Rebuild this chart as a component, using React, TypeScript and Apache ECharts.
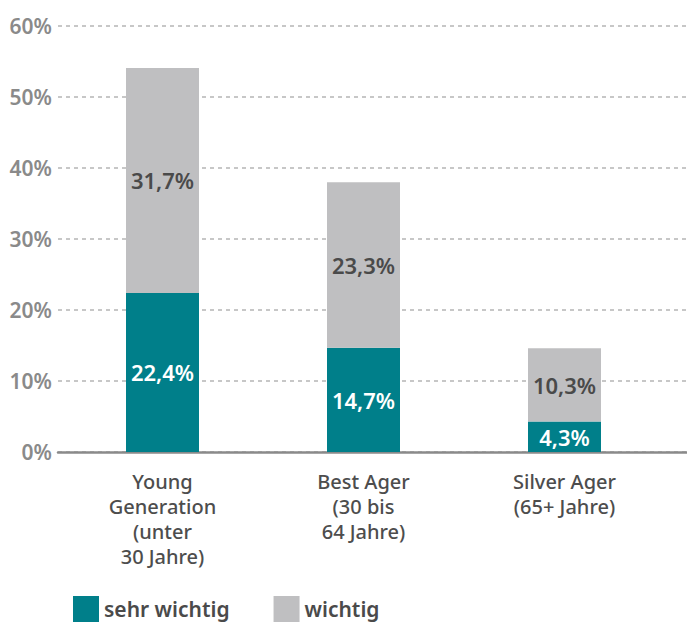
import React, { useEffect, useRef } from "react";
import * as echarts from "echarts";

const categories = ["Young\nGeneration\n(unter\n30 Jahre)", "Best Ager\n(30 bis\n64 Jahre)", "Silver Ager\n(65+ Jahre)"];
const sehrWichtig = [22.4, 14.7, 4.3];
const wichtig = [31.7, 23.3, 10.3];
const yTicks = [0, 10, 20, 30, 40, 50, 60];

const FONT = "'Noto Sans', sans-serif";
const fmt = (v: number) => v.toFixed(1).replace(".", ",") + "%";

export default function App() {
  const ref = useRef<HTMLDivElement>(null);
  useEffect(() => {
    const chart = echarts.init(ref.current!, null, { renderer: "svg" });
    chart.setOption({
      animation: false,
      textStyle: { fontFamily: FONT },
      legend: {
        left: 68,
        top: 591,
        itemWidth: 26,
        itemHeight: 26,
        itemGap: 44,
        icon: "rect",
        textStyle: { fontSize: 21, color: "#4a4a4a", fontFamily: FONT, fontWeight: 600 },
        data: ["sehr wichtig", "wichtig"],
      },
      grid: [
        { left: 58, right: 0, top: 26, bottom: 623 - 452 },
        { left: 62, right: 22, top: 26, bottom: 623 - 452 },
      ],
      xAxis: [
        {
          gridIndex: 0,
          type: "value",
          min: 0,
          max: 1,
          splitLine: { show: false },
          axisTick: { show: false },
          axisLabel: { show: false },
          axisLine: { show: true, lineStyle: { color: "#8a8a8a", width: 2.5 } },
        },
        {
          gridIndex: 1,
          type: "category",
          data: categories,
          axisTick: { show: false },
          axisLine: { show: false },
          axisLabel: {
            interval: 0,
            color: "#4d4d4d",
            fontSize: 20,
            lineHeight: 25,
            fontFamily: FONT,
            fontWeight: 500,
            margin: 17,
          },
        },
      ],
      yAxis: [
        {
          gridIndex: 0,
          type: "value",
          min: 0,
          max: 60,
          interval: 10,
          axisLine: { show: false },
          axisTick: { show: false },
          axisLabel: {
            formatter: (v: number) => (yTicks.includes(v) ? v + "%" : ""),
            color: "#8a8a8a",
            fontSize: 21,
            fontWeight: 600,
            fontFamily: FONT,
            margin: 6,
          },
          splitLine: { lineStyle: { color: "#b5b5b5", type: [4, 4], width: 1.5 } },
        },
        {
          gridIndex: 1,
          type: "value",
          min: 0,
          max: 60,
          interval: 10,
          show: false,
        },
      ],
      series: [
        {
          name: "sehr wichtig",
          type: "bar",
          stack: "s",
          xAxisIndex: 1,
          yAxisIndex: 1,
          barWidth: 73,
          itemStyle: { color: "#007f8a" },
          data: sehrWichtig,
          label: {
            show: true,
            position: "inside",
            formatter: (p: any) => fmt(p.value),
            color: "#fff",
            fontSize: 22,
            fontWeight: 600,
            fontFamily: FONT,
          },
        },
        {
          name: "wichtig",
          type: "bar",
          stack: "s",
          xAxisIndex: 1,
          yAxisIndex: 1,
          barWidth: 73,
          itemStyle: { color: "#bfbfc1" },
          data: wichtig,
          label: {
            show: true,
            position: "inside",
            formatter: (p: any) => fmt(p.value),
            color: "#4a4a4a",
            fontSize: 22,
            fontWeight: 600,
            fontFamily: FONT,
          },
        },
      ],
    });
    return () => chart.dispose();
  }, []);
  return <div ref={ref} style={{ width: 687, height: 623, position: "absolute", left: 0, top: 0 }} />;
}
